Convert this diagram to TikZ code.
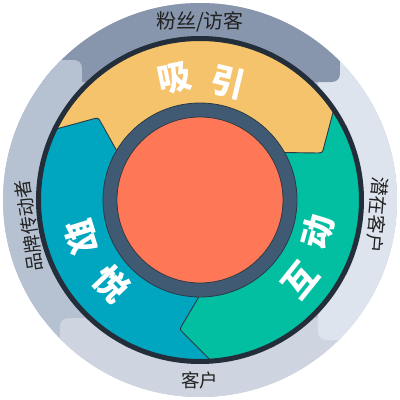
\documentclass[tikz,border=0pt]{standalone}
\usepackage{fontspec}
\newfontfamily\cjk{Noto Sans CJK SC}
\IfFontExistsTF{Noto Sans CJK SC Black}
  {\newfontfamily\cjkheavy{Noto Sans CJK SC Black}}
  {\newfontfamily\cjkheavy[FakeBold=1.5]{Noto Sans CJK SC Bold}}
\usetikzlibrary{calc}
\definecolor{bandtop}{HTML}{8796AC}
\definecolor{bandleft}{HTML}{B6C1D1}
\definecolor{bandbot}{HTML}{CED4E0}
\definecolor{bandright}{HTML}{DDE4EE}
\definecolor{yel}{HTML}{F5C36C}
\definecolor{teal}{HTML}{00A6C0}
\definecolor{grn}{HTML}{02BFA2}
\definecolor{orng}{HTML}{FE7757}
\definecolor{ringc}{HTML}{415A74}
\definecolor{darkc}{HTML}{232E3A}
\definecolor{edgec}{HTML}{2A3A44}
\definecolor{txt}{HTML}{222222}
\tikzset{
  bandlabel/.style={font=\cjk\fontsize{18.5}{20}\selectfont, text=txt, inner sep=0pt},
  biglabel/.style={font=\cjkheavy\fontsize{34}{36}\selectfont, text=white, inner sep=0pt},
  edgeline/.style={draw=edgec, line width=0.9pt}
}
\begin{document}
\begin{tikzpicture}
\useasboundingbox (-200pt,-200pt) rectangle (200pt,200pt);
% outer band
\begin{scope}
\clip (0,0) circle[radius=197pt];
\fill[bandleft] (-200pt,-200pt) rectangle (200pt,200pt);
\fill[bandbot, rounded corners=8pt] (-140pt,-118pt) rectangle (300pt,-300pt);
\fill[bandright, rounded corners=8pt] (118pt,-140pt) rectangle (300pt,300pt);
\fill[bandtop, rounded corners=8pt] (-300pt,118pt) rectangle (140pt,300pt);
\fill[bandleft, rounded corners=8pt] (-300pt,-118pt) rectangle (-118pt,140pt);
\end{scope}
% chevron coordinates
\foreach \k in {30,150,270}{
  \coordinate (O\k) at ({\k+3.6}:160pt);
  \coordinate (T\k) at ({\k-9}:131pt);
  \coordinate (I\k) at (\k:95pt);
  \coordinate (A\k) at ($(T\k)!6pt!(O\k)$);
  \coordinate (B\k) at ($(T\k)!6pt!(I\k)$);
}
% pieces
\fill[yel] (O150) arc[start angle=153.6, end angle=33.6, radius=160pt]
  -- (A30) .. controls (T30) .. (B30) -- (I30)
  arc[start angle=30, end angle=150, radius=95pt]
  -- (B150) .. controls (T150) .. (A150) -- cycle;
\fill[grn] (O30) arc[start angle=33.6, end angle=-86.4, radius=160pt]
  -- (A270) .. controls (T270) .. (B270) -- (I270)
  arc[start angle=-90, end angle=30, radius=95pt]
  -- (B30) .. controls (T30) .. (A30) -- cycle;
\fill[teal] (O270) arc[start angle=273.6, end angle=153.6, radius=160pt]
  -- (A150) .. controls (T150) .. (B150) -- (I150)
  arc[start angle=150, end angle=270, radius=95pt]
  -- (B270) .. controls (T270) .. (A270) -- cycle;
\foreach \k in {30,150,270}{
  \draw[edgeline] (O\k) -- (A\k) .. controls (T\k) .. (B\k) -- (I\k);
}
% dark outer ring
\draw[darkc, line width=5pt] (0,0) circle[radius=161.5pt];
% inner ring and core
\filldraw[fill=ringc, draw=edgec, line width=0.8pt] (0,0) circle[radius=97pt];
\filldraw[fill=orng, draw=edgec, line width=0.8pt] (0,0) circle[radius=83pt];
% band labels
\node[bandlabel, font=\cjk\fontsize{20}{22}\selectfont] (lt) at (0pt,178.5pt) {粉丝/访客};
\node[bandlabel] (lb) at (0pt,-180pt) {客户};
\node[bandlabel, font=\cjk\fontsize{19}{21}\selectfont, rotate=-94.8] (lr) at (-4.8:178pt) {潜在客户};
\node[bandlabel, rotate=98.6] (ll) at (188.6:173pt) {品牌传动者};
% big labels
\node[biglabel, rotate=11.5] (x1) at (101.5:124pt) {吸};
\node[biglabel, rotate=-13.5] (x2) at (76.5:121pt) {引};
\node[biglabel, rotate=51.2] (h1) at (-38.8:128pt) {互};
\node[biglabel, rotate=74.8] (h2) at (-15.2:122pt) {动};
\node[biglabel, rotate=287.4] (q1) at (197.4:124pt) {取};
\node[biglabel, rotate=313.7] (q2) at (223.7:122pt) {悦};
\end{tikzpicture}
\end{document}
